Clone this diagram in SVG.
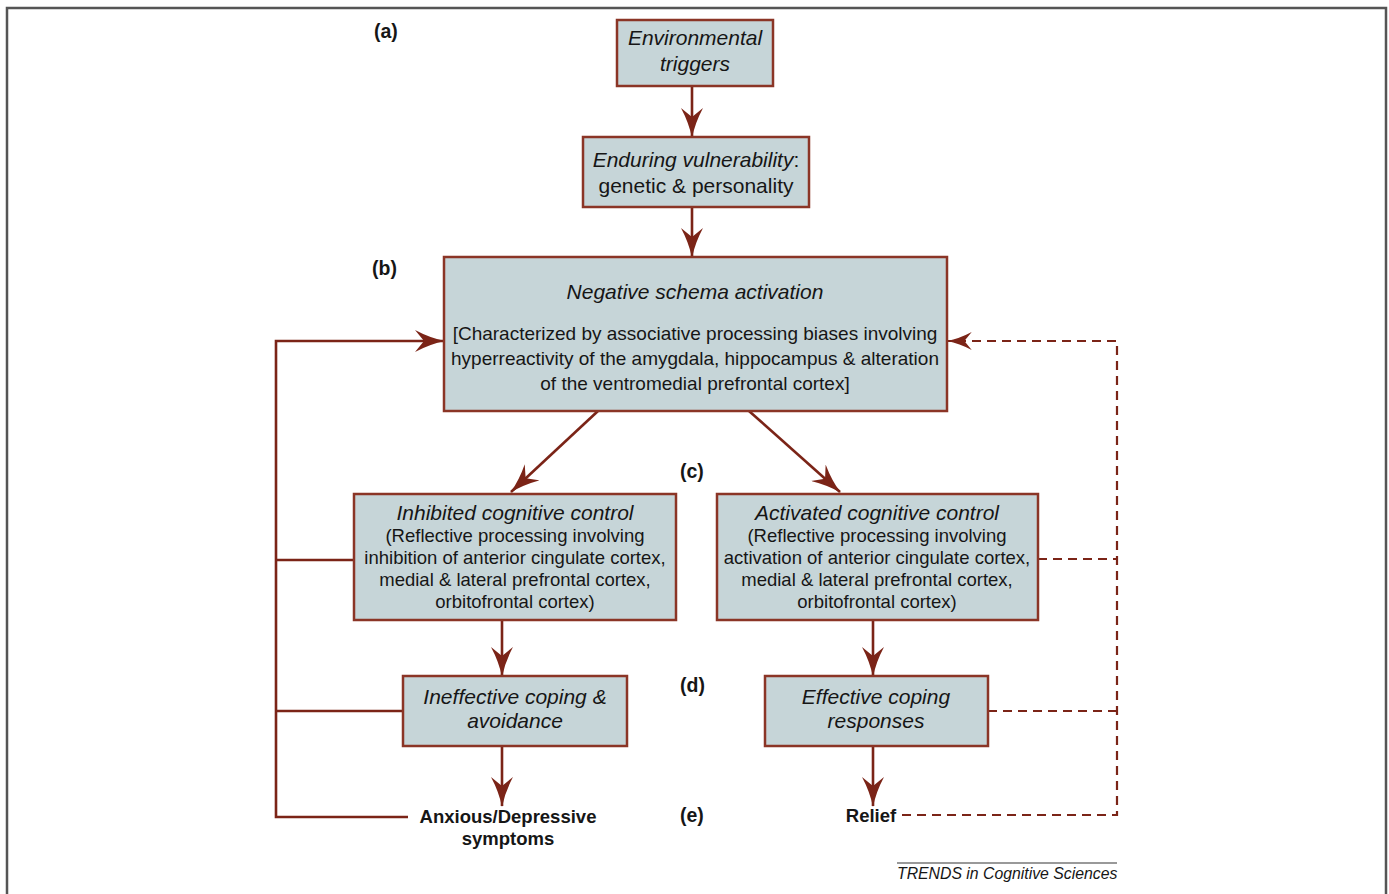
<svg xmlns="http://www.w3.org/2000/svg" width="1389" height="894" viewBox="0 0 1389 894">
<defs>
<style>
.bg{fill:#ffffff}
.frame{fill:none;stroke:#555555;stroke-width:2.5}
.box{fill:#c6d5d8;stroke:#8b3526;stroke-width:2.5}
.t{font-family:"Liberation Sans",Arial,Helvetica,sans-serif;fill:#161616;text-anchor:middle}
.ti{font-style:italic;font-size:21px}
.tn{font-size:21px}
.tb{font-size:19px}
.ts{font-size:18.5px}
.lbl{font-family:"Liberation Sans",Arial,Helvetica,sans-serif;font-weight:bold;font-size:19.5px;fill:#161616}
.out{font-family:"Liberation Sans",Arial,Helvetica,sans-serif;font-weight:bold;font-size:18.5px;fill:#161616;text-anchor:middle}
.conn{fill:none;stroke:#7b2417;stroke-width:2.6}
.dash{fill:none;stroke:#7b2417;stroke-width:2.2;stroke-dasharray:9 6}
.foot{font-family:"Liberation Sans",Arial,Helvetica,sans-serif;font-style:italic;font-size:15.8px;fill:#161616}
</style>
<marker id="ah" viewBox="0 0 30 22" refX="29" refY="11" markerWidth="30" markerHeight="22" markerUnits="userSpaceOnUse" orient="auto">
<path d="M30,11 Q15,8 0,0 L9,11 L0,22 Q15,14 30,11 Z" fill="#7b2417"/>
</marker>
<marker id="ahs" viewBox="0 0 30 22" refX="29" refY="11" markerWidth="27" markerHeight="18" markerUnits="userSpaceOnUse" orient="auto">
<path d="M30,11 Q15,8 0,0 L9,11 L0,22 Q15,14 30,11 Z" fill="#7b2417"/>
</marker>
</defs>
<rect class="bg" x="0" y="0" width="1389" height="894"/>
<path class="frame" d="M7,900 V8 H1386 V900"/>

<g id="labels">
<text class="lbl" x="374" y="38">(a)</text>
<text class="lbl" x="372" y="275">(b)</text>
<text class="lbl" x="680" y="478">(c)</text>
<text class="lbl" x="680" y="692">(d)</text>
<text class="lbl" x="680" y="822">(e)</text>
</g>

<g id="connectors">
<line class="conn" x1="692" y1="86" x2="692" y2="137" marker-end="url(#ah)"/>
<line class="conn" x1="692" y1="207" x2="692" y2="257" marker-end="url(#ah)"/>
<line class="conn" x1="598" y1="411" x2="511" y2="492" marker-end="url(#ah)"/>
<line class="conn" x1="749" y1="411" x2="840" y2="492" marker-end="url(#ah)"/>
<line class="conn" x1="502" y1="620" x2="502" y2="676" marker-end="url(#ah)"/>
<line class="conn" x1="873" y1="620" x2="873" y2="676" marker-end="url(#ah)"/>
<line class="conn" x1="502" y1="746" x2="502" y2="806" marker-end="url(#ah)"/>
<line class="conn" x1="873" y1="746" x2="873" y2="806" marker-end="url(#ah)"/>
<path class="conn" d="M408,817 H276 V341 H444" marker-end="url(#ah)"/>
<line class="conn" x1="276" y1="560" x2="354" y2="560"/>
<line class="conn" x1="276" y1="711" x2="403" y2="711"/>
<path class="dash" d="M902,815 H1117 V341 H948" marker-end="url(#ahs)"/>
<line class="dash" x1="1038" y1="559" x2="1117" y2="559"/>
<line class="dash" x1="988" y1="711" x2="1117" y2="711"/>
</g>

<g id="node-env">
<rect class="box" x="617" y="20" width="156" height="66"/>
<text class="t ti" x="695" y="45">Environmental</text>
<text class="t ti" x="695" y="71">triggers</text>
</g>

<g id="node-vuln">
<rect class="box" x="583" y="137" width="226" height="70"/>
<text class="t tn" x="696" y="167"><tspan font-style="italic">Enduring vulnerability</tspan>:</text>
<text class="t tn" x="696" y="193">genetic &amp; personality</text>
</g>

<g id="node-schema">
<rect class="box" x="444" y="257" width="503" height="154"/>
<text class="t ti" x="695" y="299">Negative schema activation</text>
<text class="t tb" x="695" y="340">[Characterized by associative processing biases involving</text>
<text class="t tb" x="695" y="365">hyperreactivity of the amygdala, hippocampus &amp; alteration</text>
<text class="t tb" x="695" y="390">of the ventromedial prefrontal cortex]</text>
</g>

<g id="node-inhibited">
<rect class="box" x="354" y="494" width="322" height="126"/>
<text class="t ti" x="515" y="520">Inhibited cognitive control</text>
<text class="t ts" x="515" y="542">(Reflective processing involving</text>
<text class="t ts" x="515" y="564">inhibition of anterior cingulate cortex,</text>
<text class="t ts" x="515" y="586">medial &amp; lateral prefrontal cortex,</text>
<text class="t ts" x="515" y="608">orbitofrontal cortex)</text>
</g>

<g id="node-activated">
<rect class="box" x="717" y="494" width="321" height="126"/>
<text class="t ti" x="877" y="520">Activated cognitive control</text>
<text class="t ts" x="877" y="542">(Reflective processing involving</text>
<text class="t ts" x="877" y="564">activation of anterior cingulate cortex,</text>
<text class="t ts" x="877" y="586">medial &amp; lateral prefrontal cortex,</text>
<text class="t ts" x="877" y="608">orbitofrontal cortex)</text>
</g>

<g id="node-ineffective">
<rect class="box" x="403" y="676" width="224" height="70"/>
<text class="t ti" x="515" y="704">Ineffective coping &amp;</text>
<text class="t ti" x="515" y="728">avoidance</text>
</g>

<g id="node-effective">
<rect class="box" x="765" y="676" width="223" height="70"/>
<text class="t ti" x="876" y="704">Effective coping</text>
<text class="t ti" x="876" y="728">responses</text>
</g>

<g id="node-symptoms">
<text class="out" x="508" y="823">Anxious/Depressive</text>
<text class="out" x="508" y="845">symptoms</text>
</g>

<g id="node-relief">
<text class="out" x="871" y="822">Relief</text>
</g>

<g id="footer">
<line x1="897" y1="863" x2="1117" y2="863" stroke="#777777" stroke-width="1.3"/>
<text class="foot" x="897" y="879">TRENDS in Cognitive Sciences</text>
</g>
</svg>
